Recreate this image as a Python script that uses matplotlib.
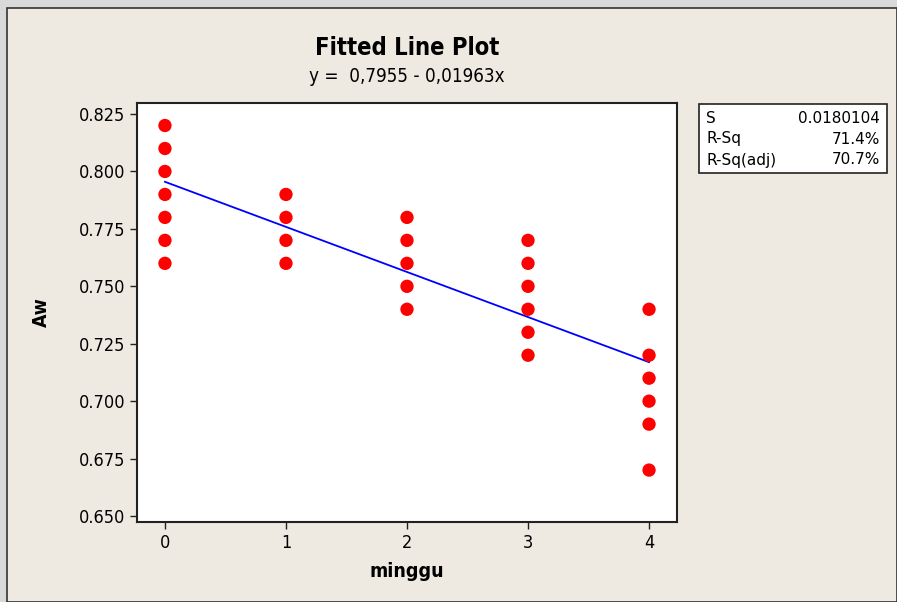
import matplotlib
matplotlib.use("Agg")
import matplotlib.pyplot as plt
from matplotlib.patches import Rectangle
import numpy as np

plt.rcParams['font.family'] = ['DejaVu Sans']
plt.rcParams['font.stretch'] = 'condensed'

minggu = [0]*7 + [1]*4 + [2]*5 + [3]*6 + [4]*6
aw = [0.76, 0.77, 0.78, 0.79, 0.80, 0.81, 0.82,
      0.76, 0.77, 0.78, 0.79,
      0.74, 0.75, 0.76, 0.77, 0.78,
      0.72, 0.73, 0.74, 0.75, 0.76, 0.77,
      0.67, 0.69, 0.70, 0.71, 0.72, 0.74]
intercept = 0.7955
slope = -0.01963
yticks = [0.650, 0.675, 0.700, 0.725, 0.750, 0.775, 0.800, 0.825]
xticks = [0, 1, 2, 3, 4]
stats_labels = ["S", "R-Sq", "R-Sq(adj)"]
stats_values = ["0.0180104", "71.4%", "70.7%"]

W, H = 897, 602
fig = plt.figure(figsize=(W/100, H/100), dpi=100)
fig.patch.set_facecolor('#D9D9D9')
panel = Rectangle((7/W, 0), 1 - 7/W, 1 - 8/H, transform=fig.transFigure,
                  facecolor='#EEEAE1', edgecolor='#333333', linewidth=1.2, zorder=-10)
fig.patches.append(panel)

ax = fig.add_axes([137/W, 1 - 522/H, (677-137)/W, (522-103)/H], zorder=5)
ax.set_facecolor('white')
ax.scatter(minggu, aw, s=92, color='#FF0000', edgecolors='none', zorder=3)
xf = np.array([0, 4])
ax.plot(xf, intercept + slope*xf, color='#0000FF', linewidth=1.3, zorder=2)

ax.set_xlim(-0.231, 4.231)
ax.set_ylim(0.6474, 0.8298)
ax.set_xticks(xticks)
ax.set_yticks(yticks)
ax.set_yticklabels([f"{v:.3f}" for v in yticks])
ax.tick_params(axis='both', labelsize=13, length=5, width=1, color='#222222')
for sp in ax.spines.values():
    sp.set_linewidth(1.5)
    sp.set_color('#222222')

ax.set_xlabel("minggu", fontsize=14, fontweight='bold', labelpad=7)
ax.set_ylabel("Aw", fontsize=14, fontweight='bold', labelpad=20)

fig.text((137+677)/2/W, 1 - 48/H, "Fitted Line Plot", ha='center', va='center',
         fontsize=17, fontweight='bold')
fig.text((137+677)/2/W, 1 - 76/H, "y =  0,7955 - 0,01963x", ha='center', va='center',
         fontsize=13.5)

# stats box
bx0, by0, bx1, by1 = 699, 104, 887, 173
box = Rectangle((bx0/W, 1 - by1/H), (bx1-bx0)/W, (by1-by0)/H, transform=fig.transFigure,
                facecolor='white', edgecolor='#222222', linewidth=1.2, zorder=1)
fig.patches.append(box)
for i, (lab, val) in enumerate(zip(stats_labels, stats_values)):
    yy = 1 - (118 + i*21)/H
    fig.text((bx0+7)/W, yy, lab, ha='left', va='center', fontsize=11, zorder=2,
             fontstretch='normal')
    fig.text((bx1-7)/W, yy, val, ha='right', va='center', fontsize=11, zorder=2,
             fontstretch='normal')

fig.savefig("out.png", dpi=100, facecolor=fig.get_facecolor())
